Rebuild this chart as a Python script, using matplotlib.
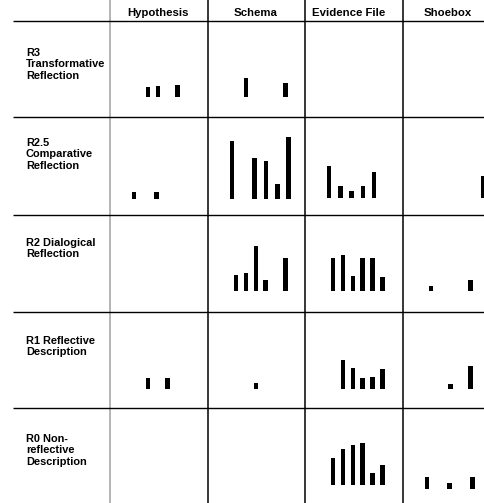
import numpy as np
import matplotlib.pyplot as plt

plt.rcParams['font.family'] = ['Liberation Sans', 'DejaVu Sans']

columns = ['Hypothesis', 'Schema', 'Evidence File', 'Shoebox']
levels = ['R3\nTransformative\nReflection',
          'R2.5\nComparative\nReflection',
          'R2 Dialogical\nReflection',
          'R1 Reflective\nDescription',
          'R0 Non-\nreflective\nDescription']

# bar heights per cell, six slots each (Hypothesis, Schema, Evidence File, Shoebox)
r3 = [[0, 1.9, 2.0, 0, 2.2, 0],
      [0, 3.5, 0, 0, 0, 2.6],
      [0, 0, 0, 0, 0, 0],
      [0, 0, 0, 0, 0, 0]]
r25 = [[1.4, 0, 1.4, 0, 0, 0],
       [11.0, 0, 7.8, 7.1, 2.8, 11.7],
       [5.9, 2.1, 1.2, 2.1, 4.8, 0],
       [0, 0, 0, 0, 0, 4.2]]
r2 = [[0, 0, 0, 0, 0, 0],
      [3.1, 3.4, 8.5, 2.1, 0, 6.3],
      [6.2, 6.7, 2.9, 6.2, 6.2, 2.6],
      [1.0, 0, 0, 0, 2.1, 0]]
r1 = [[0, 2.0, 0, 2.0, 0, 0],
      [0, 0, 1.1, 0, 0, 0],
      [0, 5.4, 4.0, 2.1, 2.2, 3.8],
      [0, 0, 1.0, 0, 4.3, 0]]
r0 = [[0, 0, 0, 0, 0, 0],
      [0, 0, 0, 0, 0, 0],
      [5.1, 6.7, 7.5, 8.0, 2.2, 3.7],
      [2.3, 0, 1.2, 0, 2.3, 0]]
rows = [r3, r25, r2, r1, r0]

#layout in pixels
W, H = 485, 503
col_left = [110, 208, 305, 403]
row_top = [21, 117, 215, 312, 408]
label_top = [48, 138, 238, 336, 434]
head_x = [158, 256, 349, 448]
baseline = [[97, 97, 97, 97],
            [199, 199, 197.5, 198],
            [291, 291, 291, 291],
            [389, 389, 389, 389],
            [485, 485, 485, 489]]
wide = [[False]*4, [True]*4, [False]*4, [False]*4, [False, False, False, True]]
px_unit = 5.3

fig = plt.figure(figsize=(W/100, H/100), dpi=100)
bg = fig.add_axes([0, 0, 1, 1])
bg.set_xlim(0, W)
bg.set_ylim(H, 0)
bg.axis('off')

bg.vlines(110, 0, H, color='#b4b4b4', lw=1.4)
bg.vlines(col_left[1:], 0, H, color='black', lw=1.1)
bg.hlines(row_top, 13, W, color='black', lw=1.0)

for i in range(len(columns)):
    bg.text(head_x[i], 12.5, columns[i], ha='center', va='center',
            fontsize=8.2, fontweight='bold')
for r in range(len(levels)):
    bg.text(26, label_top[r], levels[r], ha='left', va='top',
            fontsize=7.9, fontweight='bold', linespacing=1.17)

for r in range(len(rows)):
    for c in range(len(columns)):
        if wide[r][c]:
            start, step = 24, 11.3
        else:
            start, step = 28, 9.9
        vals = rows[r][c]
        n = len(vals)
        x0 = col_left[c] + start - step/2
        w = step*n
        h = 70
        ax = fig.add_axes([x0/W, 1-baseline[r][c]/H, w/W, h/H])
        ax.set_xlim(-0.5, n-0.5)
        ax.set_ylim(0, h/px_unit)
        ax.axis('off')
        ax.bar(np.arange(n), vals, width=4.6/step, color='black')

plt.savefig('out.png', dpi=100)
